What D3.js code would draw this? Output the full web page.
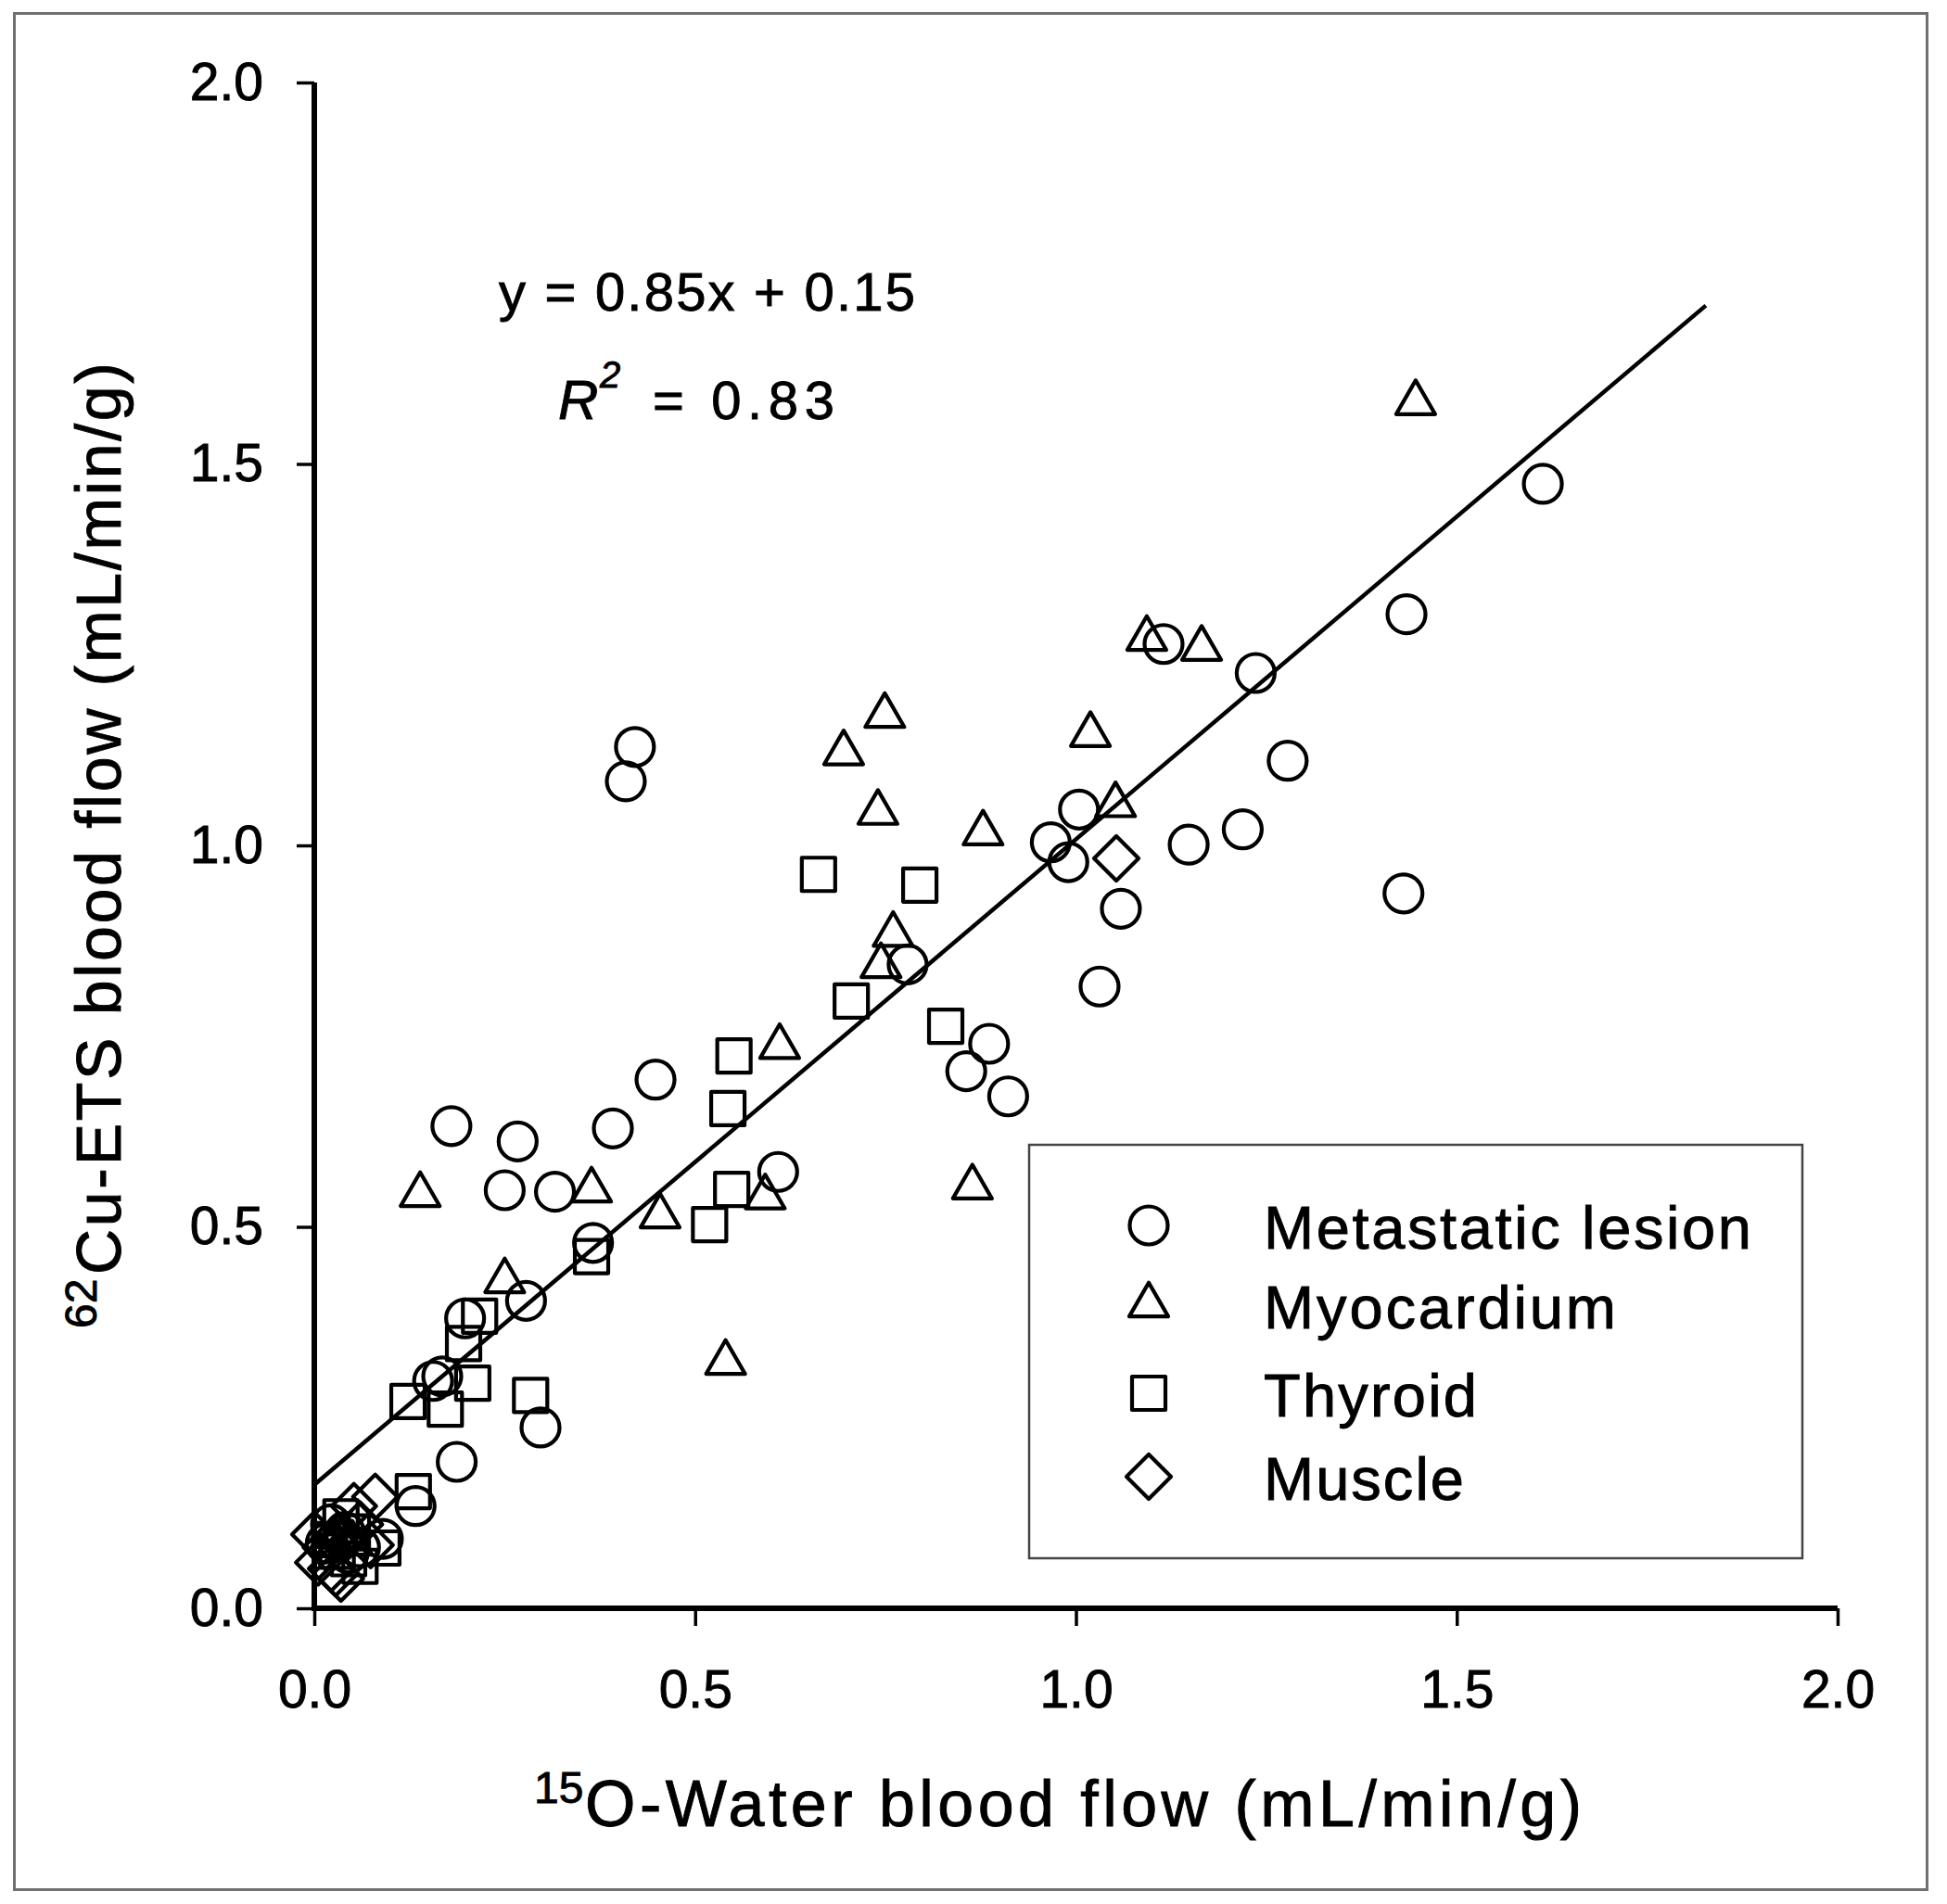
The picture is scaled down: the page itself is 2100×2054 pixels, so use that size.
<!DOCTYPE html>
<html><head><meta charset="utf-8">
<script src="https://cdn.jsdelivr.net/npm/d3@7"></script>
<style>
body{margin:0;background:#fff;}
svg{display:block;}
text{font-family:"Liberation Sans", Arial, sans-serif; fill:#000; stroke:#000; stroke-width:0.9px;}
</style></head><body>
<svg id="chart" width="2100" height="2054"></svg>
<script>
// ---------- data ----------
const xTickValues = [0, 0.5, 1.0, 1.5, 2.0];
const yTickValues = [0, 0.5, 1.0, 1.5, 2.0];
const seriesNames = ["Metastatic lesion", "Myocardium", "Thyroid", "Muscle"];

const metastaticX = [1.613,1.434,1.236,1.115,1.278,1.219,1.148,1.430,1.004,0.967,0.990,1.059,1.031,0.779,0.886,0.856,0.911,0.421,0.409,0.448,0.392,0.609,0.180,0.267,0.250,0.316,0.366,0.278,0.198,0.156,0.168,0.297,0.187,0.133,0.090,0.030,0.045,0.022,0.040,0.060,0.015];
const metastaticY = [1.474,1.303,1.226,1.264,1.111,1.021,1.001,0.937,1.047,1.004,0.978,0.917,0.815,0.844,0.740,0.704,0.671,1.129,1.084,0.693,0.629,0.572,0.632,0.612,0.548,0.546,0.479,0.403,0.380,0.298,0.304,0.237,0.192,0.134,0.091,0.090,0.072,0.110,0.100,0.080,0.085];

const myocardiumX = [1.446,1.093,1.165,1.019,1.052,0.749,0.695,0.740,0.878,0.760,0.744,0.611,0.592,0.864,0.364,0.139,0.454,0.250,0.540,0.030,0.050];
const myocardiumY = [1.580,1.271,1.258,1.145,1.053,1.170,1.121,1.043,1.016,0.883,0.842,0.736,0.539,0.552,0.548,0.542,0.514,0.429,0.322,0.095,0.085];

const thyroidX = [0.662,0.795,0.705,0.829,0.551,0.543,0.548,0.519,0.364,0.217,0.196,0.208,0.284,0.123,0.172,0.130,0.090,0.020,0.045,0.060,0.035,0.030,0.050];
const thyroidY = [0.962,0.948,0.796,0.763,0.724,0.655,0.549,0.503,0.461,0.383,0.347,0.295,0.279,0.271,0.261,0.153,0.079,0.090,0.065,0.055,0.120,0.075,0.100];

const muscleX = [1.053,0.080,0.000,0.005,0.035,0.028,0.022,0.052,0.074,0.040,0.015,0.060];
const muscleY = [0.983,0.146,0.097,0.060,0.039,0.046,0.052,0.134,0.083,0.090,0.080,0.110];

const fitSlope = 0.846, fitIntercept = 0.162, fitXMax = 1.827;
const equationText = "y = 0.85x + 0.15";
const r2Value = "= 0.83";

// ---------- drawing ----------
const svg = d3.select("#chart");
const x = d3.scaleLinear().domain([0, 2]).range([339, 1982]);
const y = d3.scaleLinear().domain([0, 2]).range([1735, 89]);

svg.append("rect").attr("x", 15.5).attr("y", 14.5).attr("width", 2063).attr("height", 2024)
  .attr("fill", "none").attr("stroke", "#707070").attr("stroke-width", 3);

const fmt = d3.format(".1f");
const gx = svg.append("g").attr("transform", `translate(0,${y(0)})`)
  .call(d3.axisBottom(x).tickValues(xTickValues).tickSize(19).tickSizeOuter(0).tickPadding(48).tickFormat(fmt));
const gy = svg.append("g").attr("transform", `translate(${x(0)},0)`)
  .call(d3.axisLeft(y).tickValues(yTickValues).tickSize(19).tickSizeOuter(0).tickPadding(36).tickFormat(fmt));
[gx, gy].forEach(g => {
  g.attr("font-family", "Liberation Sans, Arial, sans-serif").attr("font-size", 57);
  g.select(".domain").attr("stroke", "#000").attr("stroke-width", 6);
  g.selectAll(".tick line").attr("stroke", "#000").attr("stroke-width", 3.5);
  g.selectAll(".tick text").attr("fill", "#000");
});
gx.select(".domain").attr("d", `M${x(0) - 3},0H${x(2)}`);
gy.select(".domain").attr("d", `M0,${y(0) + 3}V${y(2)}`);

// regression line
svg.append("line")
  .attr("x1", x(0)).attr("y1", y(fitIntercept))
  .attr("x2", x(fitXMax)).attr("y2", y(fitIntercept + fitSlope * fitXMax))
  .attr("stroke", "#000").attr("stroke-width", 4.5);

// markers
const symCircle = d3.symbol().type(d3.symbolCircle).size(1320)();
const symTriangle = d3.symbol().type(d3.symbolTriangle).size(764)();
const symSquare = d3.symbol().type(d3.symbolSquare).size(1296)();
const symDiamond = d3.symbol().type(d3.symbolSquare).size(1152)();
const series = [
  {xs: metastaticX, ys: metastaticY, path: symCircle, rot: 0},
  {xs: myocardiumX, ys: myocardiumY, path: symTriangle, rot: 0},
  {xs: thyroidX, ys: thyroidY, path: symSquare, rot: 0},
  {xs: muscleX, ys: muscleY, path: symDiamond, rot: 45}
];
series.forEach(s => {
  svg.append("g").selectAll("path").data(d3.range(s.xs.length)).join("path")
    .attr("d", s.path)
    .attr("transform", i => `translate(${x(s.xs[i])},${y(s.ys[i])}) rotate(${s.rot})`)
    .attr("fill", "none").attr("stroke", "#000").attr("stroke-width", 4.2)
    .attr("stroke-linejoin", "round");
});

// equation
svg.append("text").attr("x", 538).attr("y", 335).attr("font-size", 58)
  .attr("textLength", 449).attr("lengthAdjust", "spacing").text(equationText);
svg.append("text").attr("x", 602).attr("y", 452).attr("font-size", 60).attr("font-style", "italic").text("R");
svg.append("text").attr("x", 647).attr("y", 418).attr("font-size", 40).attr("font-style", "italic").text("2");
svg.append("text").attr("x", 704).attr("y", 452).attr("font-size", 58)
  .attr("textLength", 196).attr("lengthAdjust", "spacing").text(r2Value);

// axis titles
svg.append("text").attr("x", 576).attr("y", 1945).attr("font-size", 48).text("15");
svg.append("text").attr("x", 631).attr("y", 1970).attr("font-size", 70)
  .attr("textLength", 1075).attr("lengthAdjust", "spacing").text("O-Water blood flow (mL/min/g)");

const gt = svg.append("g").attr("transform", "translate(130,1433) rotate(-90)");
gt.append("text").attr("x", 0).attr("y", -26).attr("font-size", 48).text("62");
gt.append("text").attr("x", 58).attr("y", 0).attr("font-size", 68)
  .attr("textLength", 984).attr("lengthAdjust", "spacing").text("Cu-ETS blood flow (mL/min/g)");

// legend
svg.append("rect").attr("x", 1110).attr("y", 1235).attr("width", 834).attr("height", 446)
  .attr("fill", "#fff").attr("stroke", "#444").attr("stroke-width", 2.5);
const legendSyms = [symCircle, symTriangle, symSquare, symDiamond];
const legendRot = [0, 0, 0, 45];
const legendSymY = [1322, 1408, 1503, 1593];
const legendTextLen = [526, 380, 230, 216];
seriesNames.forEach((name, i) => {
  svg.append("path").attr("d", legendSyms[i])
    .attr("transform", `translate(1239,${legendSymY[i]}) rotate(${legendRot[i]})`)
    .attr("fill", "none").attr("stroke", "#000").attr("stroke-width", 4.2).attr("stroke-linejoin", "round");
  svg.append("text").attr("x", 1363).attr("y", legendSymY[i] + 25).attr("font-size", 65)
    .attr("textLength", legendTextLen[i]).attr("lengthAdjust", "spacing").text(name);
});
</script>
</body></html>
